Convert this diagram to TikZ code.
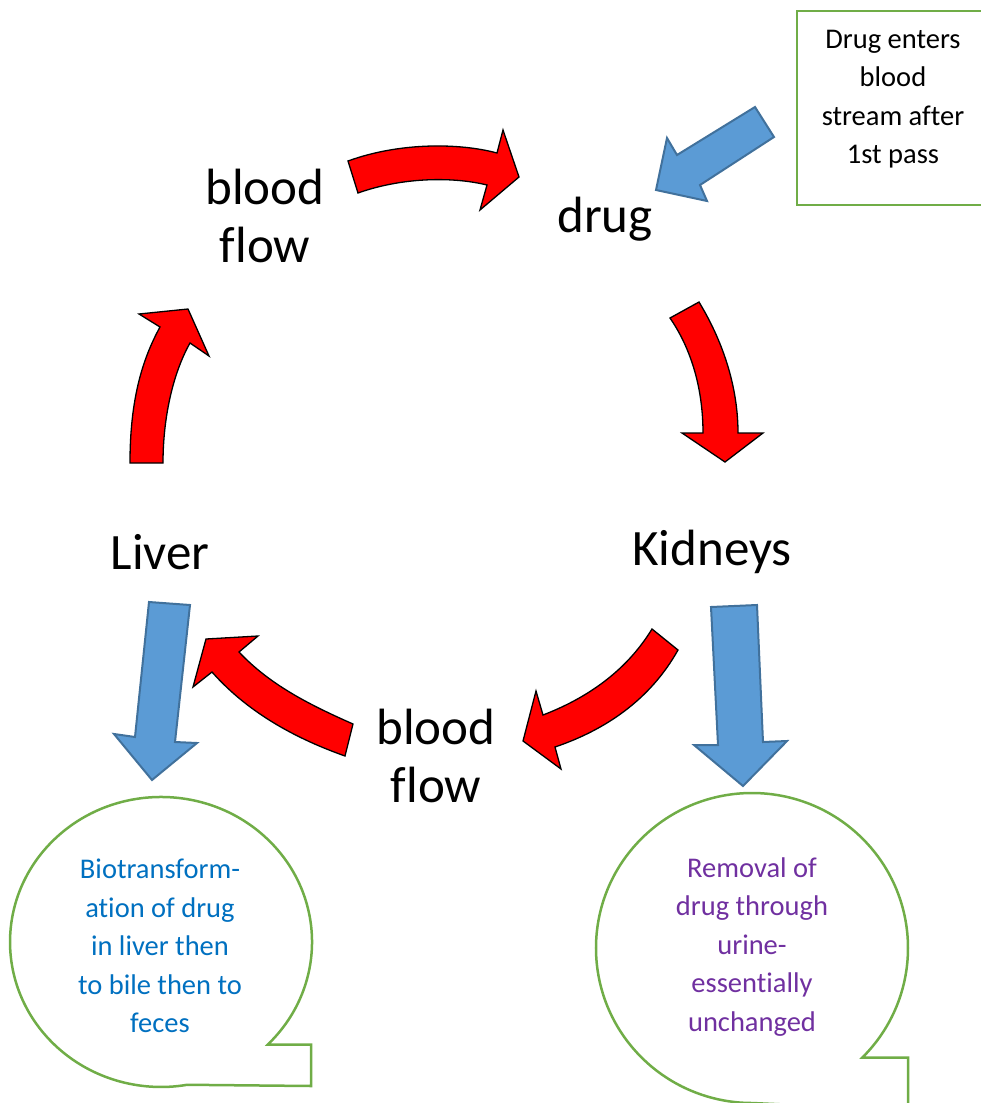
\documentclass[tikz,border=0pt]{standalone}
\usepackage{fontspec}
\setmainfont[Ligatures=NoCommon]{Carlito}
\definecolor{bluefill}{RGB}{91,155,213}
\definecolor{blueline}{RGB}{65,113,156}
\definecolor{boxgreen}{RGB}{112,173,71}
\definecolor{txtblue}{RGB}{0,112,192}
\definecolor{txtpurple}{RGB}{112,48,160}
\begin{document}
\begin{tikzpicture}[x=1pt,y=-1pt,
 redarrow/.style={fill=red, draw=black, line width=1.3pt, line join=miter},
 bluearrow/.style={fill=bluefill, draw=blueline, line width=2pt, line join=miter},
 bigtext/.style={font=\fontsize{51}{58}\selectfont, align=center, inner sep=0pt},
 smalltext/.style={font=\fontsize{28.5}{38.5}\selectfont, align=center, inner sep=0pt},
 greenline/.style={draw=boxgreen, line width=2.5pt}]
\useasboundingbox (0,0) rectangle (981,1103);

% text nodes
\node[bigtext] (bf1) at (265,216) {blood\\flow};
\node[bigtext] (drug) at (605,219) {drug};
\node[bigtext] (kid) at (712,552) {Kidneys};
\node[bigtext] (liver) at (160,552) {Liver};
\node[bigtext] (bf2) at (436,756) {blood\\flow};

% info box
\draw[greenline] (797,11) rectangle (992,205);
\node[smalltext] (enter) at (893,99) {Drug enters\\blood\\stream after\\1st pass};

% bubbles
\draw[greenline] (267.8,1044.5) arc[start angle=45,end angle=-280,x radius=151,y radius=145] -- (311,1086) -- (311,1044.5) -- cycle;
\node[smalltext, text=txtblue] (bio) at (160,946) {Biotransform-\\ation of drug\\in liver then\\to bile then to\\feces};

\draw[greenline] (862.3,1057.6) arc[start angle=45,end angle=-270,x radius=156,y radius=155] -- (908,1110) -- (908,1057.6) -- cycle;
\node[smalltext, text=txtpurple] (rem) at (752,947) {Removal of\\drug through\\urine-\\essentially\\unchanged};

% red cycle arrows
\draw[redarrow] (348,161) .. controls (400,142) and (460,143) .. (497,153) -- (503,130) -- (519,177) -- (480,210) -- (487,185) .. controls (450,176) and (400,178) .. (358,193) -- cycle;
\draw[redarrow] (699,302) .. controls (725,345) and (738,390) .. (738,433) -- (763,433) -- (725,462) -- (682,433) -- (703,433) .. controls (703,390) and (692,350) .. (670,318) -- cycle;
\draw[redarrow] (652,629) .. controls (630,665) and (595,695) .. (543,715) -- (536,691) -- (523,741) -- (561,769) -- (555,747) .. controls (605,730) and (650,700) .. (678,650) -- cycle;
\draw[redarrow] (353,724) .. controls (310,705) and (270,685) .. (239,652) -- (258,636) -- (206,639) -- (193,687) -- (212,672) .. controls (250,715) and (300,740) .. (345,756) -- cycle;
\draw[redarrow] (130,463) .. controls (130,400) and (142,360) .. (160,327) -- (139,314) -- (188,309) -- (209,356) -- (190,343) .. controls (172,375) and (163,420) .. (163,463) -- cycle;

% blue arrows
\draw[bluearrow] (656,190) -- (667,138) -- (677,155) -- (755,107) -- (774,137) -- (700,185) -- (707,201) -- cycle;
\draw[bluearrow] (149,602) -- (190,605) -- (175,742) -- (197,743) -- (152,780) -- (114,734) -- (135,737) -- cycle;
\draw[bluearrow] (711,607) -- (757,605) -- (763,742) -- (787,741) -- (743,786) -- (694,745) -- (718,745) -- cycle;
\end{tikzpicture}
\end{document}
